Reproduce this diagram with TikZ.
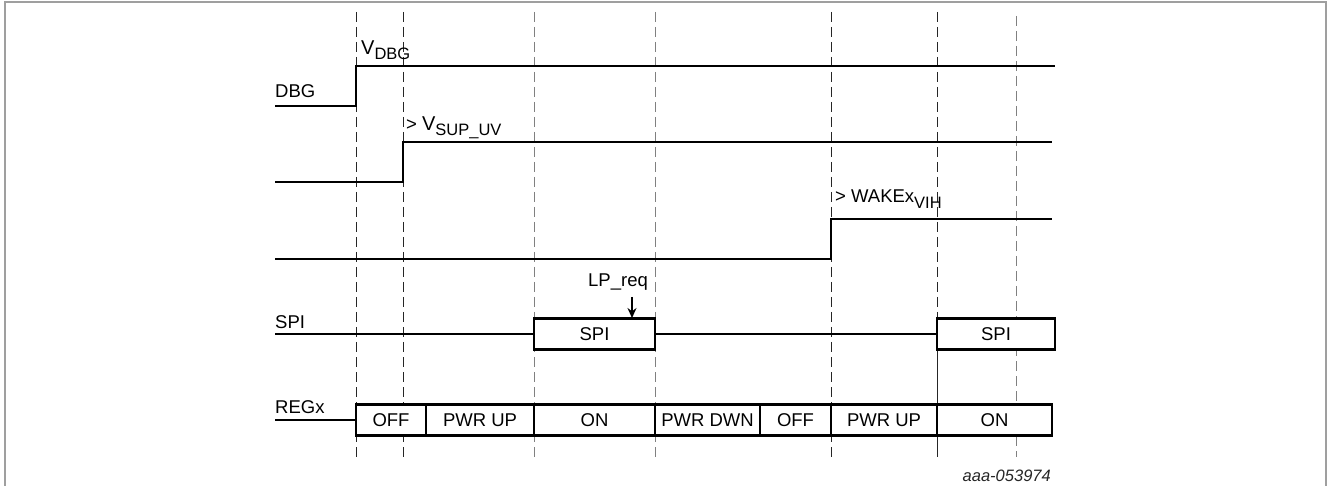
\documentclass[tikz,border=0pt]{standalone}
\usepackage{fontspec}
\setmainfont{Liberation Sans}
\usetikzlibrary{arrows.meta}
\begin{document}
\begin{tikzpicture}[x=1pt, y=-1pt, font=\fontsize{18.5}{20}\selectfont,
  sig/.style={line width=2.6pt},
  tmark/.style={line width=0.9pt, dash pattern=on 10pt off 5pt},
  segbox/.style={draw, fill=white, line width=2.4pt, minimum height=31pt, inner sep=0pt, outer sep=0pt, anchor=west},
  lbl/.style={anchor=base west, inner sep=0pt}]
  \useasboundingbox (0,0) rectangle (1328,486);
  % frame
  \draw[gray!75, line width=1.2pt] (5,490) -- (5,2) -- (1326,2) -- (1326,490);
  % time marks
  \foreach \n/\x/\c/\y in {ta/356/black!85/12, tb/403/black!85/12, tc/534/gray/12, td/655/gray/12,
                          te/831/black!85/12, tg/1016/gray/16} {
    \coordinate (\n) at (\x,\y);
    \coordinate (\n-b) at (\x,457);
    \draw[tmark, \c] (\n) -- (\n-b);
  }
  \coordinate (tf) at (937,12);
  \coordinate (tf-m) at (937,319);
  \coordinate (tf-b) at (937,457);
  \draw[tmark, black!85] (tf) -- (tf-m);
  \draw[line width=0.9pt, black!85] (tf-m) -- (tf-b);

  % DBG
  \coordinate (dbg0) at (275,106);
  \coordinate (dbg1) at (1055,66);
  \draw[sig] (dbg0) -| (dbg1-|ta) -- (dbg1);
  \node[lbl] (dbglbl) at (275,98) {DBG};
  \node[lbl] (vdbg) at (361,55) {\fontsize{20}{22}\selectfont V\textsubscript{\fontsize{16.5}{18}\selectfont DBG}};

  % supply
  \coordinate (sup0) at (275,182);
  \coordinate (sup1) at (1052,142);
  \draw[sig] (sup0) -| (sup1-|tb) -- (sup1);
  \node[lbl] (vsup) at (406,131) {> \fontsize{20}{22}\selectfont V\textsubscript{\fontsize{16.5}{18}\selectfont SUP\_UV}};

  % wake
  \coordinate (wk0) at (275,259);
  \coordinate (wk1) at (1052,219);
  \draw[sig] (wk0) -| (wk1-|te) -- (wk1);
  \node[lbl] (vwake) at (835,203) {> WAKEx\textsubscript{\fontsize{16.5}{18}\selectfont VIH}};

  % SPI
  \coordinate (spi0) at (275,334);
  \node[lbl] (spilbl) at (275,328) {SPI};
  \node[segbox, minimum width=121pt] (spi1) at (534,334) {SPI};
  \node[segbox, minimum width=118pt] (spi2) at (937,334) {SPI};
  \draw[sig] (spi0) -- (spi1.west);
  \draw[sig] (spi1.east) -- (spi2.west);
  \node[lbl] (lpreq) at (588,287) {LP\_req};
  \coordinate (lpfrom) at (632,297);
  \coordinate (lptip) at (632,318);
  \draw[line width=1.4pt, -{Stealth[length=10pt, width=9pt]}] (lpfrom) -- (lptip);

  % REGx
  \coordinate (reg0) at (275,420);
  \node[lbl] (reglbl) at (275,413) {REGx};
  \node[segbox, minimum width=70pt]  (off1) at (356,420) {OFF};
  \node[segbox, minimum width=108pt] (pu1)  at (off1.east) {PWR UP};
  \node[segbox, minimum width=121pt] (on1)  at (pu1.east) {ON};
  \node[segbox, minimum width=105pt] (pd1)  at (on1.east) {PWR DWN};
  \node[segbox, minimum width=71pt]  (off2) at (pd1.east) {OFF};
  \node[segbox, minimum width=106pt] (pu2)  at (off2.east) {PWR UP};
  \node[segbox, minimum width=115pt] (on2)  at (pu2.east) {ON};
  \draw[sig] (reg0) -- (off1.west);

  \node[anchor=base east, inner sep=0pt, font=\fontsize{16.5}{18}\selectfont\itshape, black!85] (figid) at (1051,481) {aaa-053974};
\end{tikzpicture}
\end{document}
